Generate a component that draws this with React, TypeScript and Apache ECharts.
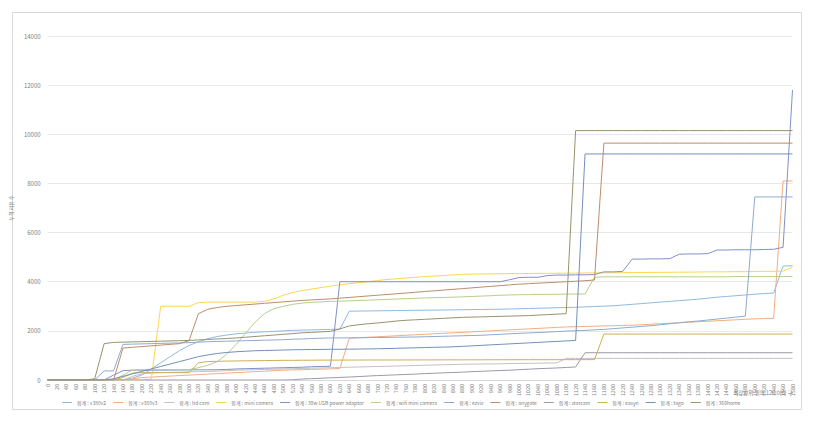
import React, { useEffect, useRef } from "react";
import * as echarts from "echarts";

const xLabels = [
  "0","20","40","60","80","100","120","140","160","180",
  "200","220","240","260","280","300","320","340","360","380",
  "400","420","440","460","480","500","520","540","560","580",
  "600","620","640","660","680","700","720","740","760","780",
  "800","820","840","860","880","900","920","940","960","980",
  "1000","1020","1040","1060","1080","1100","1120","1140","1160","1180",
  "1200","1220","1240","1260","1280","1300","1320","1340","1360","1380",
  "1400","1420","1440","1460","1480","1500","1520","1540","1560","1580",
];

const seriesNames = [
  "합계 : v380v2", "합계 : v380v3", "합계 : hd cam", "합계 : mini camera",
  "합계 : 30w USB power adaptor", "합계 : wifi mini camera", "합계 : ezviz", "합계 : anygate",
  "합계 : starcam", "합계 : easyn", "합계 : tago", "합계 : 360home",
];

const seriesColors = [
  "#8dbbe2", "#f2ad82", "#c2c2c2", "#ffd54f",
  "#8190c8", "#b5cf8d", "#8eaad0", "#bc8d6a",
  "#9a9aa8", "#d0ae55", "#7390b8", "#96946c",
];

const v380v2 = [
  0,0,0,0,0,0,0,0,0,80,
  200,450,700,950,1200,1400,1560,1680,1770,1830,
  1880,1910,1940,1960,1980,2000,2020,2030,2040,2050,
  2060,2070,2800,2805,2810,2815,2820,2825,2830,2835,
  2840,2845,2850,2855,2860,2865,2870,2875,2880,2890,
  2900,2910,2920,2930,2940,2950,2960,2975,2990,3005,
  3020,3050,3080,3110,3140,3170,3200,3230,3260,3290,
  3330,3370,3400,3430,3460,3490,3520,3540,4640,4650,
];
const v380v3 = [
  0,0,0,0,0,0,0,0,0,50,
  100,120,140,160,180,200,220,240,260,280,
  300,320,340,360,380,400,410,420,430,440,
  450,470,1700,1720,1740,1760,1780,1800,1820,1840,
  1860,1880,1900,1920,1940,1960,1980,2000,2020,2040,
  2060,2080,2100,2120,2140,2160,2170,2180,2190,2200,
  2210,2220,2230,2250,2270,2290,2310,2330,2350,2370,
  2390,2410,2430,2450,2470,2490,2500,2510,8100,8100,
];
const hdCam = [
  0,0,0,0,0,0,0,0,0,150,
  250,280,300,310,320,330,340,350,360,380,
  400,410,420,430,440,450,460,470,480,490,
  500,510,520,530,540,550,560,570,580,590,
  600,610,620,630,640,645,650,655,660,670,
  675,680,685,690,695,880,880,880,880,880,
  880,880,880,880,880,880,880,880,880,880,
  880,880,880,880,880,880,880,880,880,880,
];
const miniCamera = [
  0,0,0,0,0,0,0,0,0,0,
  0,30,3000,3000,3000,3000,3150,3170,3170,3170,
  3170,3170,3170,3200,3300,3450,3560,3640,3700,3760,
  3820,3870,3920,3960,4000,4050,4090,4120,4150,4180,
  4210,4230,4250,4280,4300,4310,4315,4320,4325,4330,
  4330,4335,4340,4340,4345,4350,4350,4355,4360,4360,
  4365,4370,4370,4375,4380,4380,4385,4390,4390,4395,
  4400,4400,4405,4410,4410,4415,4420,4420,4430,4600,
];
const usbAdaptor = [
  0,0,0,0,0,0,0,200,380,400,
  400,400,400,405,410,410,415,415,420,430,
  450,460,470,480,490,500,510,520,540,550,
  560,4000,4000,4000,4000,4000,4000,4000,4000,4000,
  4000,4000,4000,4000,4000,4000,4000,4000,4000,4080,
  4170,4180,4180,4250,4270,4270,4280,4280,4290,4400,
  4400,4420,4920,4920,4930,4930,4940,5120,5130,5130,
  5140,5290,5290,5300,5300,5300,5310,5320,5400,11800,
];
const wifiMiniCamera = [
  0,0,0,0,0,0,0,0,200,400,
  420,420,420,420,420,420,500,600,750,1050,
  1450,1900,2350,2700,2900,3000,3080,3130,3160,3180,
  3200,3210,3220,3235,3250,3265,3280,3295,3310,3325,
  3340,3350,3360,3370,3385,3400,3415,3430,3450,3460,
  3470,3475,3480,3485,3490,3495,3500,3500,4180,4200,
  4200,4200,4200,4200,4200,4200,4200,4200,4200,4200,
  4200,4200,4200,4210,4210,4210,4210,4210,4210,4210,
];
const ezviz = [
  0,0,0,0,0,0,370,370,1450,1460,
  1470,1480,1490,1500,1510,1520,1540,1560,1570,1580,
  1590,1600,1610,1620,1630,1640,1660,1670,1690,1700,
  1710,1712,1715,1720,1725,1730,1735,1740,1745,1750,
  1760,1770,1780,1790,1800,1810,1820,1840,1860,1880,
  1900,1915,1930,1950,1970,1990,2005,2020,2040,2060,
  2090,2120,2150,2180,2210,2250,2290,2330,2370,2400,
  2440,2480,2520,2560,2600,7450,7450,7450,7450,7450,
];
const anygate = [
  0,0,0,0,0,0,0,0,1300,1330,
  1360,1390,1420,1450,1480,1600,2700,2880,2950,3000,
  3030,3060,3090,3120,3150,3180,3210,3240,3260,3280,
  3300,3330,3360,3390,3420,3450,3480,3510,3540,3570,
  3600,3630,3660,3690,3720,3750,3780,3810,3840,3870,
  3900,3920,3940,3960,3980,4000,4020,4040,4070,9640,
  9640,9640,9640,9640,9640,9640,9640,9640,9640,9640,
  9640,9640,9640,9640,9640,9640,9640,9640,9640,9640,
];
const starcam = [
  0,0,0,0,0,0,0,0,0,0,
  0,0,0,0,0,0,0,0,0,0,
  0,0,0,0,0,0,10,40,55,70,
  90,105,120,140,160,180,195,210,225,240,
  260,275,290,305,320,340,355,370,385,400,
  420,440,460,475,490,510,530,1110,1110,1110,
  1110,1110,1110,1110,1110,1110,1110,1110,1110,1110,
  1110,1110,1110,1110,1110,1110,1110,1110,1110,1110,
];
const easyn = [
  0,0,0,0,0,0,0,0,100,280,
  300,300,300,300,300,300,700,750,760,770,
  775,780,785,790,795,800,800,805,805,810,
  810,810,812,812,814,814,815,815,816,816,
  818,818,820,820,820,822,822,824,824,825,
  825,826,826,827,827,828,828,829,830,1870,
  1870,1870,1870,1870,1870,1870,1870,1870,1870,1870,
  1870,1870,1870,1870,1870,1870,1870,1870,1870,1870,
];
const tago = [
  0,0,0,0,0,0,0,50,150,250,
  350,450,550,650,750,850,950,1020,1080,1120,
  1150,1170,1190,1200,1210,1220,1230,1235,1240,1245,
  1250,1250,1255,1260,1265,1270,1280,1290,1300,1310,
  1320,1330,1340,1350,1370,1390,1410,1430,1450,1470,
  1490,1510,1530,1550,1570,1590,1610,9200,9200,9200,
  9200,9200,9200,9200,9200,9200,9200,9200,9200,9200,
  9200,9200,9200,9200,9200,9200,9200,9200,9200,9200,
];
const home360 = [
  0,0,0,0,0,50,1480,1530,1540,1550,
  1560,1570,1580,1590,1600,1610,1630,1650,1670,1690,
  1710,1740,1770,1800,1830,1860,1890,1920,1940,1960,
  1980,2080,2200,2250,2290,2320,2360,2400,2430,2450,
  2470,2490,2510,2530,2550,2560,2570,2580,2590,2600,
  2610,2620,2640,2660,2680,2700,10150,10150,10150,10150,
  10150,10150,10150,10150,10150,10150,10150,10150,10150,10150,
  10150,10150,10150,10150,10150,10150,10150,10150,10150,10150,
];

const seriesData = [
  v380v2, v380v3, hdCam, miniCamera, usbAdaptor, wifiMiniCamera,
  ezviz, anygate, starcam, easyn, tago, home360,
];

const yAxisTitle = "누적 리뷰 수";
const xAxisTitle = "최장단위 별의 120 이하 구";

const FONT = "'Noto Sans CJK KR', 'Noto Sans', sans-serif";

export default function App() {
  const ref = useRef<HTMLDivElement>(null);
  useEffect(() => {
    if (!ref.current) return;
    const chart = echarts.init(ref.current, null, { renderer: "svg" });
    chart.setOption({
      animation: false,
      backgroundColor: "#ffffff",
      textStyle: { fontFamily: FONT },
      grid: { left: 47.5, right: 21.5, top: 36, bottom: 43, containLabel: false },
      graphic: [
        {
          type: "rect",
          silent: true,
          z: -10,
          shape: { x: 12.5, y: 12.5, width: 789, height: 397 },
          style: { fill: "none", stroke: "#d9d9d9", lineWidth: 1 },
        },
        {
          type: "text",
          silent: true,
          x: 763,
          y: 393,
          style: {
            text: xAxisTitle,
            fontSize: 5.5,
            fill: "#808080",
            fontFamily: FONT,
            align: "center",
            verticalAlign: "middle",
          },
        },
      ],
      legend: {
        left: 62,
        top: 400,
        icon: "rect",
        itemWidth: 10,
        itemHeight: 1,
        itemGap: 7,
        padding: 0,
        textStyle: { fontSize: 5, color: "#7f7f7f", fontFamily: FONT },
        data: seriesNames,
      },
      xAxis: {
        type: "category",
        data: xLabels,
        boundaryGap: false,
        axisLine: { lineStyle: { color: "#d9d9d9", width: 1 } },
        axisTick: { show: false },
        axisLabel: {
          interval: 0,
          rotate: 90,
          fontSize: 5.5,
          color: "#808080",
          margin: 4,
          fontFamily: FONT,
        },
        splitLine: { show: false },
      },
      yAxis: {
        type: "value",
        min: 0,
        max: 14000,
        interval: 2000,
        name: yAxisTitle,
        nameLocation: "middle",
        nameRotate: 90,
        nameGap: 27,
        nameTextStyle: { fontSize: 5, color: "#808080", fontFamily: FONT },
        axisLine: { show: false },
        axisTick: { show: false },
        axisLabel: {
          fontSize: 6,
          color: "#808080",
          margin: 7,
          fontFamily: FONT,
          formatter: (v: number) => String(v),
        },
        splitLine: { lineStyle: { color: "#e8e8e8", width: 1 } },
      },
      series: seriesNames.map((name, i) => ({
        name,
        type: "line",
        data: seriesData[i],
        symbol: "none",
        showSymbol: false,
        color: seriesColors[i],
        lineStyle: { width: 1, color: seriesColors[i] },
      })),
    });
    return () => chart.dispose();
  }, []);
  return (
    <div
      ref={ref}
      style={{ position: "absolute", left: 0, top: 0, width: 814, height: 423, background: "#fff" }}
    />
  );
}
